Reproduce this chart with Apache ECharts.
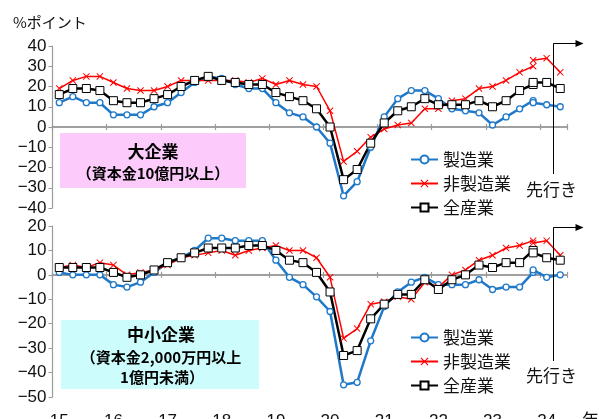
<!DOCTYPE html>
<html>
<head>
<meta charset="utf-8">
<script src="https://cdn.jsdelivr.net/npm/echarts@6/dist/echarts.min.js"></script>
<style>
  html, body { margin: 0; padding: 0; background: #fff; }
  #chart { width: 599px; height: 419px; }
</style>
</head>
<body>
<div id="chart"></div>
<script>
// 業況判断DI（%ポイント）、四半期、2015年1Q〜2024年2Q（最終期は先行き）
const yearTicks = ['15', '16', '17', '18', '19', '20', '21', '22', '23', '24'];
const quarterNames = ['1Q', '2Q', '3Q', '4Q'];
const quarters = [];
yearTicks.forEach(y => quarterNames.forEach(q => quarters.push(y + '/' + q)));
quarters.length = 38;

// 大企業：旧ベース（2015/1Q〜2023/4Q）
const largeMfg    = [12, 15, 12, 12, 6, 6, 6, 10, 12, 17, 22, 25, 24, 21, 19, 19, 12, 7, 5, 0,
                     -8, -34, -27, -10, 5, 14, 18, 18, 14, 9, 8, 7, 1, 5, 9, 13];
const largeNonMfg = [19, 23, 25, 25, 22, 19, 18, 18, 20, 23, 23, 23, 23, 23, 22, 24, 21, 23, 21, 20,
                     8, -17, -12, -5, -1, 1, 2, 9, 9, 13, 14, 19, 20, 23, 27, 30];
const largeAll    = [16, 19, 19, 18, 13, 12, 12, 14, 16, 20, 23, 25, 23, 22, 21, 21, 17, 15, 13, 9,
                     0, -26, -21, -8, 2, 8, 10, 14, 11, 11, 11, 13, 10, 13, 18, 21];
// 大企業：新ベース（2023/4Q〜2024/2Q先行き）
const largeMfgNew    = [12, 11, 10];
const largeNonMfgNew = [33, 34, 27];
const largeAllNew    = [22, 22, 19];

// 中小企業：旧ベース
const smallMfg    = [1, 0, 0, 0, -4, -5, -3, 1, 5, 7, 10, 15, 15, 14, 14, 14, 6, -1, -4, -9,
                     -15, -45, -44, -27, -13, -7, -3, -1, -4, -4, -4, -2, -6, -5, -5, 1];
const smallNonMfg = [3, 4, 3, 5, 4, 0, 1, 2, 4, 7, 8, 9, 10, 8, 10, 11, 12, 10, 10, 7,
                     -1, -26, -22, -12, -11, -9, -10, -3, -5, 0, 2, 6, 8, 11, 12, 14];
const smallAll    = [3, 3, 3, 3, 1, -1, 0, 2, 5, 7, 9, 11, 11, 11, 12, 12, 10, 6, 5, 1,
                     -7, -33, -31, -18, -12, -8, -8, -2, -6, -2, 0, 4, 3, 5, 5, 10];
// 中小企業：新ベース
const smallMfgNew    = [2, -1, 0];
const smallNonMfgNew = [13, 14, 8];
const smallAllNew    = [9, 7, 6];

const seriesNames = ['製造業', '非製造業', '全産業'];

const FONT = '"Liberation Sans", Arial, "Noto Sans CJK JP", sans-serif';
const JFONT = '"Noto Sans CJK JP", "Liberation Sans", sans-serif';
const AXIS_GREY = '#9a9a9a';
const X_MARK = 'path://M0,1L1,0L5,4L9,0L10,1L6,5L10,9L9,10L5,6L1,10L0,9L4,5Z';

const styles = [
  { color: '#1f78c8', width: 2.5, symbol: 'circle', size: 6, fill: '#fff', border: 1.3 },
  { color: '#ff0000', width: 1.5, symbol: X_MARK, size: 7, fill: '#ff0000', border: 0 },
  { color: '#000000', width: 2.5, symbol: 'rect', size: 8, fill: '#fff', border: 1 }
];

function padOld(arr) {
  return arr.concat(new Array(quarters.length - arr.length).fill(null));
}
function padNew(arr) {
  return new Array(quarters.length - arr.length).fill(null).concat(arr);
}

function makeLine(k, data, xi, yi) {
  const s = styles[k];
  return {
    type: 'line',
    name: seriesNames[k],
    xAxisIndex: xi,
    yAxisIndex: yi,
    data: data,
    symbol: s.symbol,
    symbolSize: s.size,
    showAllSymbol: true,
    connectNulls: false,
    animation: false,
    lineStyle: { color: s.color, width: s.width },
    itemStyle: { color: s.fill, borderColor: s.color, borderWidth: s.border },
    emphasis: { disabled: true }
  };
}

const series = [];
[[largeMfg, largeMfgNew], [largeNonMfg, largeNonMfgNew], [largeAll, largeAllNew]].forEach((p, k) => {
  series.push(makeLine(k, padOld(p[0]), 0, 0));
  series.push(makeLine(k, padNew(p[1]), 0, 0));
});
[[smallMfg, smallMfgNew], [smallNonMfg, smallNonMfgNew], [smallAll, smallAllNew]].forEach((p, k) => {
  series.push(makeLine(k, padOld(p[0]), 2, 1));
  series.push(makeLine(k, padNew(p[1]), 2, 1));
});

function lineAxis(gridIndex, position, yIndex) {
  return {
    type: 'category',
    gridIndex: gridIndex,
    position: position,
    data: quarters,
    boundaryGap: true,
    axisLine: { show: true, onZero: true, onZeroAxisIndex: yIndex, lineStyle: { color: AXIS_GREY, width: 1.5 } },
    axisTick: { show: true, interval: 3, length: 3, lineStyle: { color: AXIS_GREY, width: 1.2 } },
    axisLabel: { show: false },
    splitLine: { show: false }
  };
}

function valueAxis(gridIndex, min, max) {
  return {
    type: 'value',
    gridIndex: gridIndex,
    min: min,
    max: max,
    interval: 10,
    axisLine: { show: true, lineStyle: { color: AXIS_GREY, width: 1.2 } },
    axisTick: { show: true, length: 4, lineStyle: { color: AXIS_GREY } },
    axisLabel: {
      margin: 6,
      fontSize: 17,
      fontFamily: FONT,
      color: '#111',
      formatter: v => (v < 0 ? '\u2212' + Math.abs(v) : String(v))
    },
    splitLine: { show: false }
  };
}

function legendAt(top) {
  return {
    data: seriesNames,
    orient: 'vertical',
    left: 410,
    top: top,
    padding: 0,
    itemWidth: 27,
    itemHeight: 10,
    itemGap: 7,
    selectedMode: false,
    textStyle: { fontSize: 17, fontFamily: JFONT, color: '#111' }
  };
}

const chart = echarts.init(document.getElementById('chart'), null, { renderer: 'canvas' });

chart.setOption({
  animation: false,
  backgroundColor: '#fff',
  grid: [
    { left: 52.5, right: 32, top: 46, height: 162, containLabel: false, outerBoundsMode: 'none' },
    { left: 52.5, right: 32, top: 226, height: 171, containLabel: false, outerBoundsMode: 'none' }
  ],
  xAxis: [
    lineAxis(0, 'bottom', 0),
    lineAxis(0, 'top', 0),
    lineAxis(1, 'bottom', 1),
    lineAxis(1, 'top', 1),
    {
      type: 'category',
      gridIndex: 1,
      position: 'bottom',
      data: quarters,
      boundaryGap: true,
      axisLine: { show: false, onZero: false },
      axisTick: { show: false },
      axisLabel: {
        interval: 3,
        margin: 16,
        fontSize: 17,
        fontFamily: FONT,
        color: '#111',
        formatter: v => v.split('/')[0]
      }
    }
  ],
  yAxis: [valueAxis(0, -40, 40), valueAxis(1, -50, 20)],
  legend: [legendAt(151), legendAt(329)],
  series: series,
  graphic: [
    { type: 'text', left: 13, top: 15, style: { text: '%ポイント', font: '15px ' + JFONT, fill: '#111' } },
    { type: 'text', left: 582, top: 411, style: { text: '年', font: '17px ' + JFONT, fill: '#111' } },
    { type: 'rect', shape: { x: 60, y: 133, width: 186, height: 55 }, style: { fill: '#fccbfb' }, z: 1 },
    { type: 'text', x: 153, y: 152, style: { text: '大企業', font: 'bold 17px ' + JFONT, fill: '#000', align: 'center', verticalAlign: 'middle' }, z: 2 },
    { type: 'text', x: 153, y: 173, style: { text: '（資本金10億円以上）', font: 'bold 15px ' + JFONT, fill: '#000', align: 'center', verticalAlign: 'middle' }, z: 2 },
    { type: 'rect', shape: { x: 61, y: 320, width: 198, height: 69 }, style: { fill: '#ccfcfc' }, z: 1 },
    { type: 'text', x: 161, y: 335, style: { text: '中小企業', font: 'bold 17px ' + JFONT, fill: '#000', align: 'center', verticalAlign: 'middle' }, z: 2 },
    { type: 'text', x: 161, y: 357, style: { text: '（資本金2,000万円以上', font: 'bold 15px ' + JFONT, fill: '#000', align: 'center', verticalAlign: 'middle' }, z: 2 },
    { type: 'text', x: 162, y: 377, style: { text: '1億円未満）', font: 'bold 15px ' + JFONT, fill: '#000', align: 'center', verticalAlign: 'middle' }, z: 2 }
  ]
});

// 先行きの区切り線と矢印（最終2期の境界に置く）
const xa = chart.convertToPixel({ xAxisIndex: 0 }, quarters[36]);
const xb = chart.convertToPixel({ xAxisIndex: 0 }, quarters[37]);
const bx = Math.round((xa + xb) / 2) + 0.5;
function forecastMark(yTop, yBottom, textY) {
  const tip = bx + 30;
  return [
    { type: 'polyline', shape: { points: [[bx, yBottom], [bx, yTop], [tip - 7, yTop]] }, style: { stroke: '#000', lineWidth: 1, fill: null }, z: 5 },
    { type: 'polygon', shape: { points: [[tip - 8, yTop - 3.5], [tip, yTop], [tip - 8, yTop + 3.5]] }, style: { fill: '#000' }, z: 5 },
    { type: 'text', x: bx - 2, y: textY, style: { text: '先行き', font: '17px ' + JFONT, fill: '#111', align: 'center', verticalAlign: 'middle' }, z: 5 }
  ];
}
const extra = forecastMark(43.5, 174, 190).concat(forecastMark(227.5, 361, 376));
chart.setOption({ graphic: chart.getOption().graphic[0].elements.concat(extra) });
</script>
</body>
</html>
